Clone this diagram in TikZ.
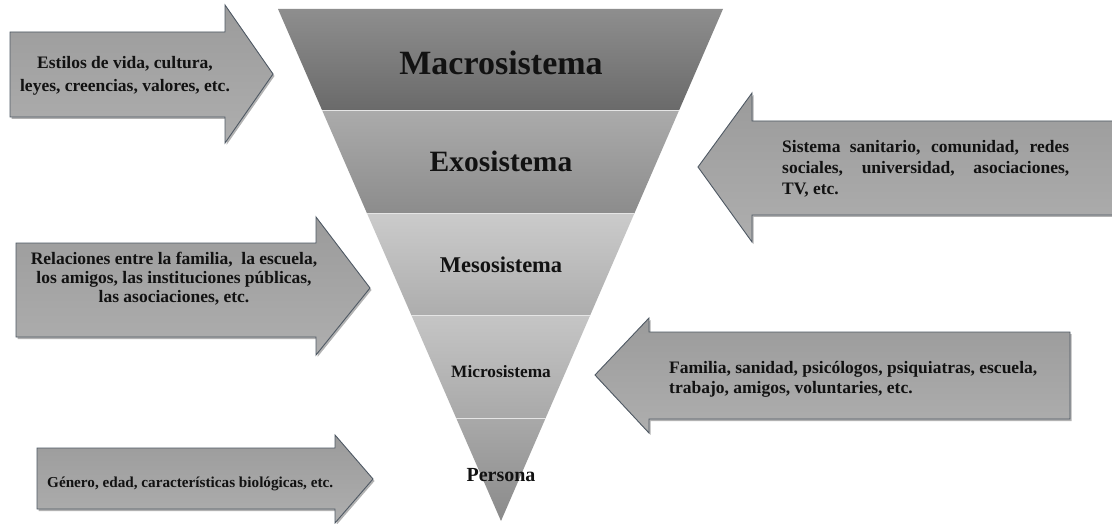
\documentclass[tikz,border=0pt]{standalone}
\usepackage{fontspec}
\setmainfont{Liberation Serif}
\usetikzlibrary{calc,shadows}
\definecolor{arrline}{HTML}{4F5964}
\definecolor{arrtop}{HTML}{9B9B9B}
\definecolor{arrbot}{HTML}{AEAEAE}
\definecolor{txt}{HTML}{121212}
\definecolor{macT}{HTML}{8E8E8E}
\definecolor{macB}{HTML}{6A6A6A}
\definecolor{exoT}{HTML}{ABABAB}
\definecolor{exoB}{HTML}{8C8C8C}
\definecolor{mesT}{HTML}{CBCBCB}
\definecolor{mesB}{HTML}{ADADAD}
\definecolor{micT}{HTML}{C5C5C5}
\definecolor{micB}{HTML}{A9A9A9}
\definecolor{perT}{HTML}{A9A9A9}
\definecolor{perB}{HTML}{8A8A8A}
\begin{document}
\begin{tikzpicture}[x=1pt,y=-1pt,
  arrowbox/.style={draw=arrline, line width=0.9pt, top color=arrtop, bottom color=arrbot, line join=miter,
    drop shadow={shadow xshift=1.5pt, shadow yshift=-2pt, opacity=0.3, fill=black}},
  bandsep/.style={draw=white!80!gray, line width=0.6pt},
  lbl/.style={text=txt, inner sep=0pt, anchor=base},
  atext/.style={font=\fontsize{17.5}{21}\selectfont\bfseries, text=txt, inner sep=0pt}]
\useasboundingbox[fill=white] (0,0) rectangle (1112,524);

% funnel corners
\coordinate (TL) at (278,9);
\coordinate (TR) at (723,9);
\coordinate (TIP) at (501,521);
\coordinate (L1) at ($(TL)!0.198!(TIP)$);
\coordinate (R1) at ($(TR)!0.198!(TIP)$);
\coordinate (L2) at ($(TL)!0.399!(TIP)$);
\coordinate (R2) at ($(TR)!0.399!(TIP)$);
\coordinate (L3) at ($(TL)!0.598!(TIP)$);
\coordinate (R3) at ($(TR)!0.598!(TIP)$);
\coordinate (L4) at ($(TL)!0.799!(TIP)$);
\coordinate (R4) at ($(TR)!0.799!(TIP)$);

\path[top color=macT, bottom color=macB] (TL) -- (TR) -- (R1) -- (L1) -- cycle;
\path[top color=exoT, bottom color=exoB] (L1) -- (R1) -- (R2) -- (L2) -- cycle;
\path[top color=mesT, bottom color=mesB] (L2) -- (R2) -- (R3) -- (L3) -- cycle;
\path[top color=micT, bottom color=micB] (L3) -- (R3) -- (R4) -- (L4) -- cycle;
\path[top color=perT, bottom color=perB] (L4) -- (R4) -- (TIP) -- cycle;
\draw[bandsep] (L1) -- (R1);
\draw[bandsep] (L2) -- (R2);
\draw[bandsep] (L3) -- (R3);
\draw[bandsep] (L4) -- (R4);

\node[lbl, font=\fontsize{34}{34}\selectfont\bfseries] (macro) at (501,75) {Macrosistema};
\node[lbl, font=\fontsize{29.5}{30}\selectfont\bfseries] (exo) at (501,172) {Exosistema};
\node[lbl, font=\fontsize{22.5}{23}\selectfont\bfseries] (meso) at (501,272) {Mesosistema};
\node[lbl, font=\fontsize{17.3}{18}\selectfont\bfseries] (micro) at (501,377) {Microsistema};
\node[lbl, font=\fontsize{20}{20}\selectfont\bfseries] (persona) at (501,481) {Persona};

% arrow 1 (right)
\path[arrowbox] (10,32) -- (225,32) -- (225,5) -- (273,74) -- (225,143) -- (225,117) -- (10,117) -- cycle;
\node[atext, anchor=base] (t1) at (125,69)
  {\parbox[t]{240pt}{\centering\fontsize{17.5}{22.5}\selectfont Estilos de vida, cultura,\\leyes, creencias, valores, etc.}};

% arrow 2 (left)
\path[arrowbox] (1116,121) -- (752,121) -- (752,93) -- (698,167) -- (752,242) -- (752,215) -- (1116,215) -- cycle;
\node[atext, anchor=base west] (t2) at (782,153)
  {\parbox[t]{287pt}{\fontsize{17.5}{21}\selectfont
   \makebox[287pt][s]{Sistema sanitario, comunidad, redes}\\
   \makebox[287pt][s]{sociales, universidad, asociaciones,}\\
   TV, etc.}};

% arrow 3 (right)
\path[arrowbox] (16,243) -- (316,243) -- (316,217) -- (370,288) -- (316,355) -- (316,337) -- (16,337) -- cycle;
\node[atext, anchor=base] (t3) at (174,265)
  {\parbox[t]{300pt}{\centering\fontsize{17.5}{19}\selectfont Relaciones entre la familia, \ la escuela,\\los amigos, las instituciones públicas,\\las asociaciones, etc.}};

% arrow 4 (left)
\path[arrowbox] (1070,332) -- (649,332) -- (649,318) -- (595,375) -- (649,433) -- (649,419) -- (1070,419) -- cycle;
\node[atext, anchor=base west] (t4) at (669,373)
  {\parbox[t]{380pt}{\raggedright\fontsize{17.5}{20.5}\selectfont Familia, sanidad, psicólogos, psiquiatras, escuela,\\trabajo, amigos, voluntaries, etc.}};

% arrow 5 (right)
\path[arrowbox] (37,448) -- (335,448) -- (335,435) -- (373,479) -- (335,523) -- (335,509) -- (37,509) -- cycle;
\node[atext, anchor=base west, font=\fontsize{15.2}{18}\selectfont\bfseries] (t5) at (47,487)
  {Género, edad, características biológicas, etc.};
\end{tikzpicture}
\end{document}
